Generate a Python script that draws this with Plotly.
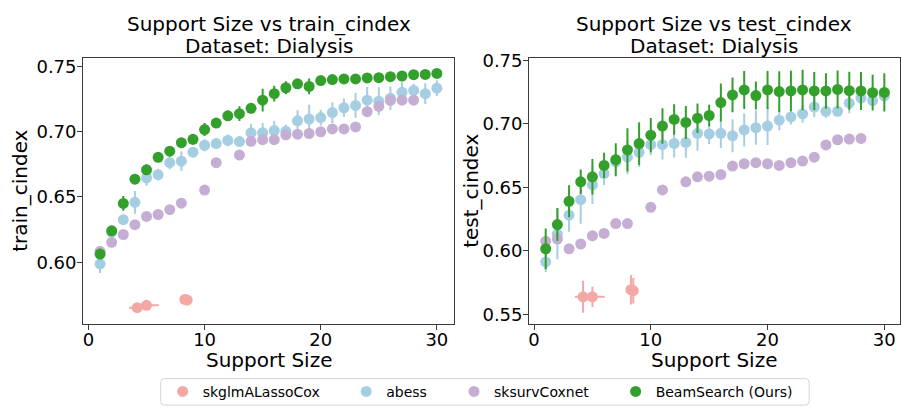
import plotly.graph_objects as go

# ---- support sizes -------------------------------------------------------
sizes = list(range(1, 31))
sizes_coxnet = [1, 2, 3, 4, 5, 6, 7, 8, 10, 11, 13, 14, 15, 16, 17, 18, 19,
                20, 21, 22, 23, 24, 25, 26, 27, 28]
sizes_lasso = [4.2, 5.0, 8.3, 8.5]
sizes_lasso_err = [0.7, 1.05, 0.15, 0.15]

# ---- train c-index --------------------------------------------------------
train_beam = [0.6062, 0.6240, 0.6450, 0.6635, 0.6707, 0.6803, 0.6850, 0.6915,
              0.6940, 0.7015, 0.7065, 0.7120, 0.7137, 0.7178, 0.7240, 0.7290,
              0.7335, 0.7365, 0.7345, 0.7390, 0.7398, 0.7403, 0.7403, 0.7410,
              0.7412, 0.7420, 0.7425, 0.7435, 0.7437, 0.7445]
train_beam_err = [0.004, 0.003, 0.0056, 0.003, 0.004, 0.003, 0.003, 0.003,
                  0.004, 0.005, 0.003, 0.004, 0.0056, 0.004, 0.0087, 0.006,
                  0.005, 0.003, 0.006, 0.002, 0.002, 0.002, 0.002, 0.002,
                  0.002, 0.002, 0.002, 0.002, 0.002, 0.002]
train_abess = [0.5987, 0.6230, 0.6325, 0.6458, 0.6645, 0.6670, 0.6762, 0.6773,
               0.6842, 0.6895, 0.6908, 0.6932, 0.6923, 0.6990, 0.6990, 0.7007,
               0.7002, 0.7082, 0.7095, 0.7107, 0.7145, 0.7182, 0.7200, 0.7240,
               0.7232, 0.7255, 0.7300, 0.7315, 0.7290, 0.7332]
train_abess_err = [0.007, 0.004, 0.003, 0.0087, 0.006, 0.0045, 0.005, 0.0075,
                   0.004, 0.0045, 0.004, 0.0045, 0.003, 0.0068, 0.0075, 0.0075,
                   0.005, 0.008, 0.011, 0.006, 0.008, 0.007, 0.0094, 0.010,
                   0.0106, 0.009, 0.0078, 0.005, 0.008, 0.006]
train_coxnet = [0.6083, 0.6152, 0.6212, 0.6287, 0.6350, 0.6365, 0.6402, 0.6452,
                0.6552, 0.6762, 0.6820, 0.6925, 0.6938, 0.6938, 0.6975, 0.6980,
                0.6985, 0.6998, 0.7020, 0.7020, 0.7035, 0.7152, 0.7193, 0.7238,
                0.7240, 0.7240]
train_lasso = [0.5652, 0.5670, 0.5715, 0.5710]
train_lasso_err = [0.0025, 0.002, 0.002, 0.002]

# ---- test c-index ---------------------------------------------------------
test_beam = [0.6015, 0.6206, 0.6389, 0.6543, 0.6582, 0.6672, 0.6717, 0.6794,
             0.6844, 0.6910, 0.6982, 0.7034, 0.7010, 0.7044, 0.7065, 0.7167,
             0.7227, 0.7266, 0.7222, 0.7266, 0.7253, 0.7258, 0.7266, 0.7258,
             0.7258, 0.7270, 0.7260, 0.7258, 0.7245, 0.7247]
test_beam_err = [0.016, 0.013, 0.0126, 0.0097, 0.014, 0.010, 0.013, 0.017,
                 0.0168, 0.0135, 0.014, 0.012, 0.013, 0.0116, 0.0084, 0.015,
                 0.0137, 0.015, 0.011, 0.015, 0.016, 0.016, 0.016, 0.015,
                 0.014, 0.015, 0.015, 0.015, 0.014, 0.015]
test_abess = [0.5912, 0.6131, 0.6280, 0.6402, 0.6518, 0.6608, 0.6698, 0.6737,
              0.6775, 0.6835, 0.6835, 0.6845, 0.6853, 0.6925, 0.6920, 0.6925,
              0.6905, 0.6951, 0.6969, 0.6982, 0.7028, 0.7054, 0.7077, 0.7131,
              0.7098, 0.7098, 0.7162, 0.7201, 0.7183, 0.7219]
test_abess_err = [0.008, 0.020, 0.013, 0.019, 0.015, 0.009, 0.0065, 0.0135,
                  0.0116, 0.0084, 0.0116, 0.011, 0.012, 0.0135, 0.008, 0.0116,
                  0.013, 0.013, 0.0135, 0.015, 0.008, 0.006, 0.007, 0.008,
                  0.005, 0.004, 0.008, 0.005, 0.005, 0.004]
test_coxnet = [0.6074, 0.6092, 0.6015, 0.6053, 0.6118, 0.6136, 0.6214, 0.6214,
               0.6342, 0.6479, 0.6543, 0.6582, 0.6587, 0.6600, 0.6667, 0.6685,
               0.6693, 0.6685, 0.6672, 0.6693, 0.6706, 0.6737, 0.6833, 0.6874,
               0.6879, 0.6884]
test_lasso = [0.5637, 0.5637, 0.5693, 0.5685]
test_lasso_err = [0.0126, 0.008, 0.0116, 0.010]

# ---- styling ---------------------------------------------------------------
C_LASSO = "#f4a8a5"
C_ABESS = "#a6cee3"
C_COXNET = "#c5aed4"
C_BEAM = "#33a02c"
FONT = "DejaVu Sans"
MSIZE = 11
W, H = 901, 409

fig = go.Figure()


def add_series(x, y, yerr, color, name, xa, ya, show, leg, xerr=None):
    tr = dict(
        x=x, y=y, mode="markers", name=name, legendgroup=name,
        showlegend=show, xaxis=xa, yaxis=ya, legend=leg,
        marker=dict(color=color, size=MSIZE, line=dict(width=0)),
    )
    if yerr is not None:
        tr["error_y"] = dict(type="data", array=yerr, color=color,
                             thickness=2, width=0)
    if xerr is not None:
        tr["error_x"] = dict(type="data", array=xerr, color=color,
                             thickness=2, width=0)
    fig.add_trace(go.Scatter(**tr))


for xa, ya, show, lasso, lasso_err, abess, abess_err, coxnet, beam, beam_err in [
    ("x", "y", True, train_lasso, train_lasso_err, train_abess, train_abess_err,
     train_coxnet, train_beam, train_beam_err),
    ("x2", "y2", False, test_lasso, test_lasso_err, test_abess, test_abess_err,
     test_coxnet, test_beam, test_beam_err),
]:
    add_series(sizes_lasso, lasso, lasso_err, C_LASSO, "skglmALassoCox",
               xa, ya, show, "legend", xerr=sizes_lasso_err)
    add_series(sizes, abess, abess_err, C_ABESS, "abess", xa, ya, show, "legend2")
    add_series(sizes_coxnet, coxnet, None, C_COXNET, "sksurvCoxnet",
               xa, ya, show, "legend3")
    add_series(sizes, beam, beam_err, C_BEAM, "BeamSearch (Ours)",
               xa, ya, show, "legend4")

axis_common = dict(
    showgrid=False, zeroline=False, showline=True, mirror=True,
    linecolor="#3a3a3a", linewidth=1, ticks="outside", ticklen=5,
    tickwidth=1, tickcolor="#3a3a3a",
    tickfont=dict(family=FONT, size=18, color="black"),
)

left_dom = [82.3 / W, 454.3 / W]
right_dom = [529.3 / W, 900.5 / W]
y_dom = [1 - 322.3 / H, 1 - 50.7 / H]

# one legend per entry, laid out in a single row inside a shared frame
leg_y = 1 - 391.5 / H
leg_common = dict(orientation="h", y=leg_y, yanchor="middle", xanchor="left",
                  bgcolor="rgba(0,0,0,0)", borderwidth=0,
                  font=dict(family=FONT, size=14, color="black"), itemwidth=30)
leg_x = [162, 346, 454, 616]

fig.update_layout(
    width=W, height=H,
    margin=dict(l=0, r=0, t=0, b=0),
    paper_bgcolor="white", plot_bgcolor="white",
    font=dict(family=FONT, color="black"),
    xaxis=dict(domain=left_dom, range=[-0.46, 31.5], anchor="y",
               tickvals=[0, 10, 20, 30], ticklabelstandoff=-6, **axis_common),
    yaxis=dict(domain=y_dom, range=[0.5527, 0.7565], anchor="x",
               tickvals=[0.60, 0.65, 0.70, 0.75], tickformat=".2f",
               ticklabelstandoff=-3, **axis_common),
    xaxis2=dict(domain=right_dom, range=[-0.42, 31.3], anchor="y2",
                tickvals=[0, 10, 20, 30], ticklabelstandoff=-6, **axis_common),
    yaxis2=dict(domain=y_dom, range=[0.5423, 0.752], anchor="x2",
                tickvals=[0.55, 0.60, 0.65, 0.70, 0.75], tickformat=".2f",
                ticklabelstandoff=-3, **axis_common),
    legend=dict(x=leg_x[0] / W, **leg_common),
    legend2=dict(x=leg_x[1] / W, **leg_common),
    legend3=dict(x=leg_x[2] / W, **leg_common),
    legend4=dict(x=leg_x[3] / W, **leg_common),
)

# legend frame with slightly rounded corners
bx0, bx1 = 160 / W, 810 / W
by0, by1 = 1 - 405 / H, 1 - 378 / H
rx, ry = 4 / W, 4 / H
frame = (f"M {bx0 + rx} {by0} L {bx1 - rx} {by0} Q {bx1} {by0} {bx1} {by0 + ry} "
         f"L {bx1} {by1 - ry} Q {bx1} {by1} {bx1 - rx} {by1} "
         f"L {bx0 + rx} {by1} Q {bx0} {by1} {bx0} {by1 - ry} "
         f"L {bx0} {by0 + ry} Q {bx0} {by0} {bx0 + rx} {by0} Z")
fig.add_shape(type="path", path=frame, xref="paper", yref="paper",
              line=dict(color="#d5d5d5", width=1), fillcolor="white",
              layer="below")

# titles and axis labels
lc = (left_dom[0] + left_dom[1]) / 2
rc = (right_dom[0] + right_dom[1]) / 2
ymid = (y_dom[0] + y_dom[1]) / 2
texts = [
    (lc, 1 - 16 / H, "Support Size vs train_cindex", 0),
    (lc, 1 - 39 / H, "Dataset: Dialysis", 0),
    (rc, 1 - 16 / H, "Support Size vs test_cindex", 0),
    (rc, 1 - 39 / H, "Dataset: Dialysis", 0),
    (lc, 1 - 359 / H, "Support Size", 0),
    (rc, 1 - 359 / H, "Support Size", 0),
    (19 / W, ymid, "train_cindex", -90),
    (471 / W, ymid, "test_cindex", -90),
]
for x, y, t, ang in texts:
    fig.add_annotation(
        x=x, y=y, xref="paper", yref="paper", text=t, showarrow=False,
        xanchor="center", yanchor="middle", textangle=ang,
        font=dict(family=FONT, size=20, color="black"),
    )

fig.write_html("out.html")
